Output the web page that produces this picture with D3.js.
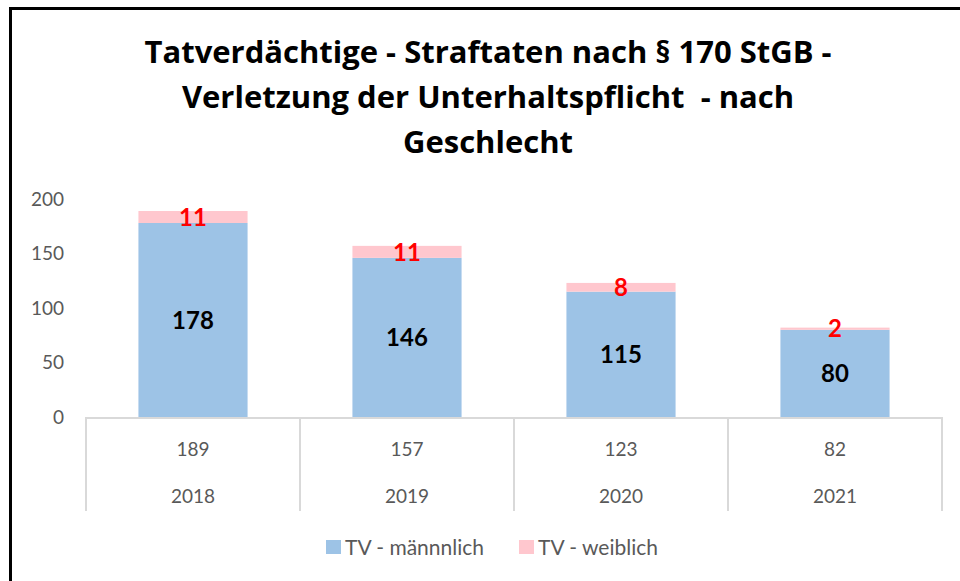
<!DOCTYPE html>
<html>
<head>
<meta charset="utf-8">
<script src="https://cdn.jsdelivr.net/npm/d3@7"></script>
<style>
  body { margin: 0; background: #ffffff; }
  svg { display: block; }
</style>
</head>
<body>
<div id="chart"></div>
<script>
const years = ['2018', '2019', '2020', '2021']
const male = [178, 146, 115, 80]
const female = [11, 11, 8, 2]
const totals = [189, 157, 123, 82]
const yTicks = [0, 50, 100, 150, 200]
const seriesNames = ['TV - männnlich', 'TV - weiblich']

const W = 960
const H = 581
const FONT = 'Lato, "Open Sans", sans-serif'
const COLORS = ['#9dc3e6', '#ffc7ce']
const LABEL_COLORS = ['#000000', '#ff0000']

const plot = { left: 86, right: 942, top: 199, bottom: 417 }

const svg = d3.select('#chart').append('svg').attr('width', W).attr('height', H)

svg.append('rect').attr('width', W).attr('height', H).attr('fill', '#ffffff')

// frame (only top and left edges visible)
svg
  .append('path')
  .attr('d', `M10.5,${H} V8.5 H${W}`)
  .attr('fill', 'none')
  .attr('stroke', '#000000')
  .attr('stroke-width', 3)

const titleLines = [
  'Tatverdächtige - Straftaten nach § 170 StGB -',
  'Verletzung der Unterhaltspflicht  - nach',
  'Geschlecht',
]
svg
  .append('g')
  .selectAll('text')
  .data(titleLines)
  .join('text')
  .attr('x', 488)
  .attr('y', (d, i) => 63 + i * 45)
  .attr('text-anchor', 'middle')
  .attr('font-family', '"Open Sans", sans-serif')
  .attr('font-weight', 'bold')
  .attr('font-size', 31)
  .attr('fill', '#000000')
  .style('white-space', 'pre')
  .text((d) => d)

const x = d3.scaleBand().domain(years).range([plot.left, plot.right]).paddingInner(0).paddingOuter(0)
const barW = x.bandwidth() * 0.51
const y = d3.scaleLinear().domain([0, 200]).range([plot.bottom, plot.top])

// y axis labels
const yAxis = svg
  .append('g')
  .attr('transform', `translate(${plot.left - 22},0)`)
  .call(d3.axisLeft(y).tickValues(yTicks).tickSize(0).tickPadding(0))
yAxis.select('.domain').remove()
yAxis
  .selectAll('text')
  .attr('font-family', FONT)
  .attr('font-size', 19)
  .attr('fill', '#595959')

// stacked bars
const rows = years.map((yr, i) => ({ year: yr, m: male[i], f: female[i] }))
const stack = d3.stack().keys(['m', 'f'])(rows)

const layers = svg
  .append('g')
  .selectAll('g')
  .data(stack)
  .join('g')
  .attr('fill', (d, i) => COLORS[i])

layers
  .selectAll('rect')
  .data((d) => d)
  .join('rect')
  .attr('x', (d) => x(d.data.year) + (x.bandwidth() - barW) / 2)
  .attr('width', barW)
  .attr('y', (d) => y(d[1]))
  .attr('height', (d) => y(d[0]) - y(d[1]))

// data labels
stack.forEach((layer, li) => {
  svg
    .append('g')
    .selectAll('text')
    .data(layer)
    .join('text')
    .attr('x', (d) => x(d.data.year) + x.bandwidth() / 2)
    .attr('y', (d) => (y(d[0]) + y(d[1])) / 2)
    .attr('dy', '0.36em')
    .attr('text-anchor', 'middle')
    .attr('font-family', FONT)
    .attr('font-weight', 'bold')
    .attr('font-size', 24)
    .attr('fill', LABEL_COLORS[li])
    .text((d) => d[1] - d[0])
})

// category table under the axis
const table = svg.append('g').attr('stroke', '#d9d9d9').attr('stroke-width', 2)
table
  .append('line')
  .attr('x1', plot.left)
  .attr('x2', plot.right)
  .attr('y1', plot.bottom + 1)
  .attr('y2', plot.bottom + 1)
const edges = years.map((d) => x(d)).concat([plot.right])
table
  .selectAll('line.sep')
  .data(edges)
  .join('line')
  .attr('class', 'sep')
  .attr('x1', (d) => d)
  .attr('x2', (d) => d)
  .attr('y1', plot.bottom)
  .attr('y2', 511)

const tableText = (values, yPos) =>
  svg
    .append('g')
    .selectAll('text')
    .data(values)
    .join('text')
    .attr('x', (d, i) => x(years[i]) + x.bandwidth() / 2)
    .attr('y', yPos)
    .attr('text-anchor', 'middle')
    .attr('font-family', FONT)
    .attr('font-size', 19)
    .attr('fill', '#595959')
    .text((d) => d)

tableText(totals, 456)
tableText(years, 503)

// legend
const legendX = [326, 519]
const legend = svg
  .append('g')
  .selectAll('g')
  .data(seriesNames)
  .join('g')
  .attr('transform', (d, i) => `translate(${legendX[i]},540)`)
legend
  .append('rect')
  .attr('width', 15)
  .attr('height', 14)
  .attr('fill', (d, i) => COLORS[i])
legend
  .append('text')
  .attr('x', 19)
  .attr('y', 15)
  .attr('font-family', FONT)
  .attr('font-size', 21)
  .attr('fill', '#595959')
  .text((d) => d)
</script>
</body>
</html>
